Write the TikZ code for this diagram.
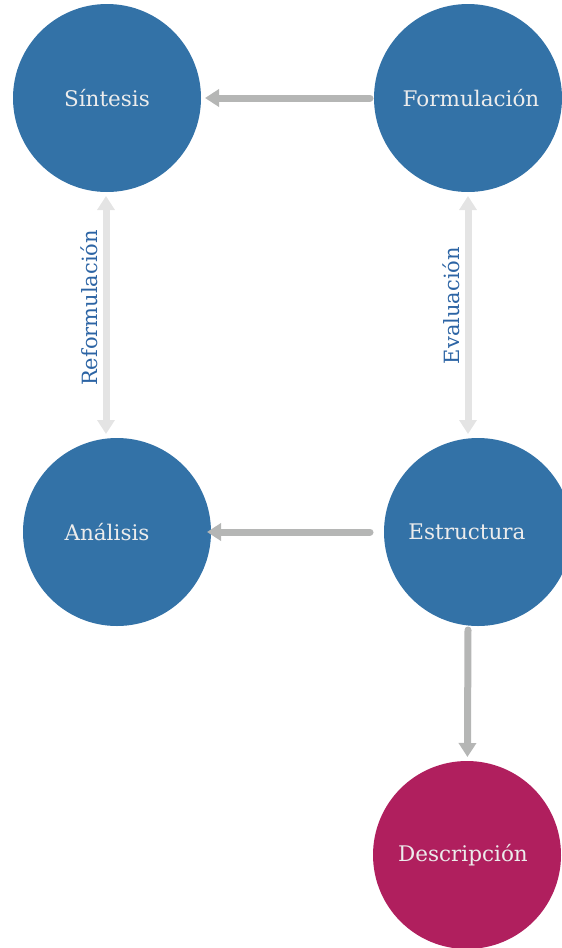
\documentclass[tikz,border=0pt]{standalone}
\usepackage{fontspec}
\setmainfont{DejaVu Serif}
\usetikzlibrary{arrows.meta}
\definecolor{nodeblue}{HTML}{3372A7}
\definecolor{nodewine}{HTML}{B01F5E}
\definecolor{labelblue}{HTML}{2C64A4}
\definecolor{flowgray}{HTML}{B5B6B5}
\definecolor{loopgray}{HTML}{E4E4E4}
\definecolor{nodetext}{HTML}{ECECEC}
% text set off-centre inside a circle by #1 (negative = to the left)
\newcommand{\offtext}[2]{\makebox[0pt]{\hspace*{#1}\hspace*{#1}#2}}
\tikzset{
  stage/.style={circle, fill=nodeblue, minimum size=188pt, inner sep=0pt,
    outer sep=4pt, text=nodetext, font=\fontsize{21.5}{25}\selectfont},
  finalstage/.style={stage, fill=nodewine},
  flow/.style={draw=flowgray, line width=7pt, line cap=round,
    -{Triangle[width=17pt,length=14pt]}},
  loop/.style={draw=loopgray, line width=7pt,
    {Triangle[width=17pt,length=14pt]}-{Triangle[width=17pt,length=14pt]}},
  looplabel/.style={text=labelblue, rotate=90, font=\fontsize{21}{25}\selectfont}
}
\begin{document}
\begin{tikzpicture}[x=1pt,y=-1pt]
  \useasboundingbox (0,0) rectangle (562,948);
  \clip (0,0) rectangle (562,948);

  \node[stage] (sint) at (107,98) {Síntesis};
  \node[stage] (form) at (468,98) {\offtext{3pt}{Formulación}};
  \node[stage] (anal) at (117,532) {\offtext{-10pt}{Análisis}};
  \node[stage] (estr) at (478,532) {\offtext{-11pt}{Estructura}};
  \node[finalstage] (desc) at (467,855) {\offtext{-4pt}{Descripción}};

  \draw[flow] (form) -- (sint);
  \draw[flow] (form.west |- estr.west) -- ([xshift=-8pt]anal.east);
  \draw[flow] ([xshift=-10pt]estr.south) -- (desc);

  \draw[loop] ([xshift=-1pt]sint.south) -- ([xshift=-1pt]sint.south |- anal.north)
    node[pos=0.47, looplabel, above=1pt] (reflab) {Reformulación};
  \draw[loop] (form.south) -- (form.south |- estr.north)
    node[pos=0.46, looplabel, above=1pt] (evallab) {Evaluación};
\end{tikzpicture}
\end{document}
